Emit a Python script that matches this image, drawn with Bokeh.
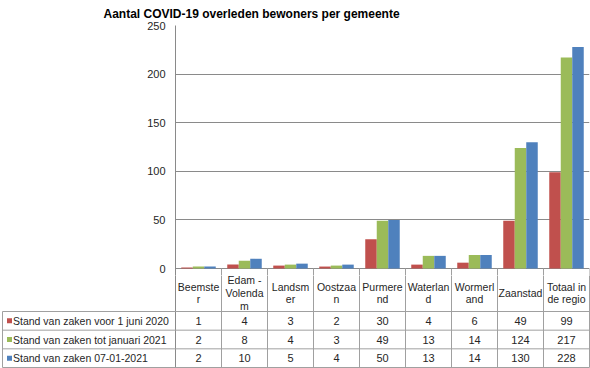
from bokeh.plotting import figure
from bokeh.models import (Range1d, FixedTicker, ColumnDataSource, Title)
from bokeh.transform import dodge
from bokeh.core.properties import value
from bokeh.embed import file_html
from bokeh.resources import INLINE

# ---------------- data ----------------
categories = ["Beemster", "Edam-Volendam", "Landsmeer", "Oostzaan", "Purmerend",
              "Waterland", "Wormerland", "Zaanstad", "Totaal in de regio"]
header_labels = ["Beemste\nr", "Edam -\nVolenda\nm", "Landsm\ner", "Oostzaa\nn",
                 "Purmere\nnd", "Waterlan\nd", "Wormerl\nand", "Zaanstad", "Totaal in\nde regio"]
series_names = ["Stand van zaken voor 1 juni 2020",
                "Stand van zaken tot januari 2021",
                "Stand van zaken 07-01-2021"]
s_juni2020 = [1, 4, 3, 2, 30, 4, 6, 49, 99]
s_jan2021 = [2, 8, 4, 3, 49, 13, 14, 124, 217]
s_07012021 = [2, 10, 5, 4, 50, 13, 14, 130, 228]
y_ticks = [0, 50, 100, 150, 200, 250]
title_text = "Aantal COVID-19  overleden bewoners per gemeente"

# ---------------- style / layout (pixels) ----------------
colors = ["#C0504D", "#9BBB59", "#4F81BD"]
FONT = "Liberation Sans"
GRID = "#8a8a8a"
TABLE = "#a0a0a0"
TXT = "#262626"

W = 590
H = 368
LEFT = 175            # left edge of plot area / first table column
RIGHT = 1
ncat = len(categories)
col_w = (W - LEFT - RIGHT) / ncat
TOP = 25              # y of the 250 line
ZERO = 268            # y of the 0 line
EXT = 7               # chart frame continues below 0 into the header row
HA = ZERO + EXT
px_per_unit = (ZERO - TOP) / 250.0

# ---------------- chart ----------------
src = ColumnDataSource(dict(cat=categories, xc=[i + 0.5 for i in range(ncat)],
                            s0=s_juni2020, s1=s_jan2021, s2=s_07012021))

pA = figure(width=W, height=HA, x_range=Range1d(0, ncat),
            y_range=Range1d(-EXT / px_per_unit, 250),
            x_axis_type=None, output_backend="svg", toolbar_location=None,
            min_border_left=LEFT, min_border_right=RIGHT, min_border_top=TOP, min_border_bottom=0)
pA.add_layout(Title(text=title_text, align="left", offset=103 - LEFT, standoff=9,
                    text_font=FONT, text_font_size="12px", text_font_style="bold",
                    text_color="#000000"), "above")
pA.outline_line_color = None
pA.ygrid.grid_line_color = GRID
pA.ygrid.ticker = FixedTicker(ticks=y_ticks)
pA.yaxis.ticker = FixedTicker(ticks=y_ticks)
pA.yaxis.major_tick_out = 0
pA.yaxis.major_tick_in = 0
pA.yaxis.minor_tick_line_color = None
pA.yaxis.axis_line_color = GRID
pA.yaxis.major_label_standoff = 10
pA.yaxis.major_label_text_font = FONT
pA.yaxis.major_label_text_font_size = "11px"
pA.yaxis.major_label_text_color = TXT

for k, (off, key) in enumerate(zip([-0.25, 0.0, 0.25], ["s0", "s1", "s2"])):
    pA.vbar(x=dodge("xc", off), top=key, width=0.25, source=src,
            fill_color=colors[k], line_color=None)

# column separators continuing into the header row
pA.segment(x0=list(range(1, ncat + 1)), y0=[0] * ncat, x1=list(range(1, ncat + 1)),
           y1=[-2 * EXT / px_per_unit] * ncat, line_color=TABLE, line_width=1)

# ---------------- data table ----------------
HB = H - HA
HEADER_BOTTOM = 311
ROW = 18.67
HEADER_TEXT_Y = 292.5
# y in row units, 0 = top of first data row, increasing downward
top_u = (HA - HEADER_BOTTOM) / ROW
bot_u = (H - HEADER_BOTTOM) / ROW
header_text_u = (HEADER_TEXT_Y - HEADER_BOTTOM) / ROW
x0 = -LEFT / col_w
x1 = ncat + RIGHT / col_w
left_border = x0 + 2 / col_w

pB = figure(width=W, height=HB, x_range=Range1d(x0, x1), y_range=Range1d(bot_u, top_u),
            x_axis_type=None, y_axis_type=None, output_backend="svg", toolbar_location=None,
            min_border=0, min_border_left=0, min_border_right=0, min_border_top=0,
            min_border_bottom=0)
pB.outline_line_color = None
pB.grid.visible = False

nrows = len(series_names)
pB.segment(x0=list(range(ncat + 1)), y0=[top_u - 1] * (ncat + 1),
           x1=list(range(ncat + 1)), y1=[nrows] * (ncat + 1), line_color=TABLE, line_width=1)
pB.segment(x0=[0], y0=[top_u - 1], x1=[0], y1=[nrows], line_color=GRID, line_width=1)
pB.segment(x0=[left_border], y0=[0], x1=[left_border], y1=[nrows], line_color=TABLE, line_width=1)
pB.segment(x0=[left_border] * (nrows + 1), y0=list(range(nrows + 1)),
           x1=[ncat] * (nrows + 1), y1=list(range(nrows + 1)), line_color=TABLE, line_width=1)

pB.text(x=[i + 0.5 for i in range(ncat)], y=[header_text_u] * ncat, text=header_labels,
        text_align="center", text_baseline="middle", text_font=value(FONT),
        text_font_size="10.5px", text_color=TXT, text_line_height=1.05)

pB.scatter(x=[left_border + 7 / col_w] * nrows, y=[r + 0.5 for r in range(nrows)],
           marker="square", size=5, fill_color=colors, line_color=None)
pB.text(x=[left_border + 10.5 / col_w] * nrows, y=[r + 0.5 for r in range(nrows)],
        text=series_names, text_align="left", text_baseline="middle", text_font=value(FONT),
        text_font_size="10.5px", text_color=TXT)

allvals = [s_juni2020, s_jan2021, s_07012021]
xs, ys, ts = [], [], []
for r, vals in enumerate(allvals):
    for i, v in enumerate(vals):
        xs.append(i + 0.5)
        ys.append(r + 0.5)
        ts.append(str(v))
pB.text(x=xs, y=ys, text=ts, text_align="center", text_baseline="middle",
        text_font=value(FONT), text_font_size="11px", text_color=TXT)

open("out.html", "w").write(file_html([pA, pB], INLINE))
